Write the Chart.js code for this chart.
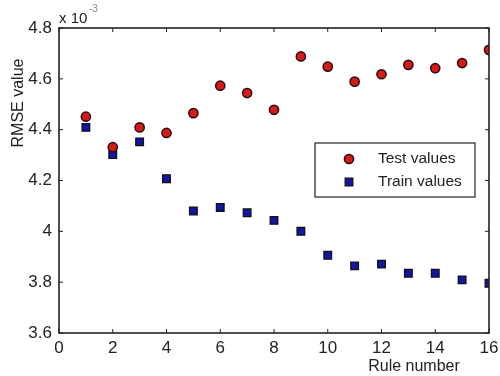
<!DOCTYPE html>
<html>
<head>
<meta charset="utf-8">
<script src="https://cdn.jsdelivr.net/npm/chart.js@4"></script>
<style>
  html, body { margin: 0; padding: 0; background: #fff; }
  #wrap { width: 500px; height: 376px; }
</style>
</head>
<body>
<div id="wrap"><canvas id="rmseChart" width="500" height="376"></canvas></div>
<script>
// RMSE values, in units of 10^-3
const ruleNumbers = [1, 2, 3, 4, 5, 6, 7, 8, 9, 10, 11, 12, 13, 14, 15, 16];
const testValues = [4.451, 4.331, 4.409, 4.387, 4.465, 4.573, 4.544, 4.478, 4.688, 4.648, 4.589, 4.618, 4.655, 4.642, 4.662, 4.714];
const trainValues = [4.409, 4.302, 4.352, 4.207, 4.080, 4.094, 4.073, 4.043, 4.000, 3.906, 3.864, 3.871, 3.835, 3.835, 3.809, 3.796];
const seriesNames = ['Test values', 'Train values'];

const FONT = "'Liberation Sans', Arial, sans-serif";
const INK = '#222';

// frame, inward ticks on all sides, axis labels, exponent and legend (MATLAB look)
const matlabFrame = {
  id: 'matlabFrame',
  afterDraw(chart) {
    const ctx = chart.ctx;
    const a = chart.chartArea;
    const xs = chart.scales.x, ys = chart.scales.y;
    ctx.save();
    ctx.strokeStyle = INK;
    ctx.lineWidth = 1.6;
    ctx.strokeRect(a.left, a.top, a.right - a.left, a.bottom - a.top);

    // inward ticks
    ctx.lineWidth = 1;
    ctx.beginPath();
    xs.ticks.forEach(t => {
      const px = xs.getPixelForValue(t.value);
      ctx.moveTo(px, a.bottom); ctx.lineTo(px, a.bottom - 4);
      ctx.moveTo(px, a.top); ctx.lineTo(px, a.top + 4);
    });
    ys.ticks.forEach(t => {
      const py = ys.getPixelForValue(t.value);
      ctx.moveTo(a.left, py); ctx.lineTo(a.left + 4, py);
      ctx.moveTo(a.right, py); ctx.lineTo(a.right - 4, py);
    });
    ctx.stroke();

    // exponent
    ctx.fillStyle = INK;
    ctx.textBaseline = 'alphabetic';
    ctx.textAlign = 'left';
    ctx.font = '15px ' + FONT;
    ctx.fillText('x 10', 59, 23);
    ctx.font = '10px ' + FONT;
    ctx.fillStyle = '#888';
    ctx.fillText('-3', 89, 12);

    // axis labels
    ctx.fillStyle = INK;
    ctx.font = '16px ' + FONT;
    ctx.textAlign = 'center';
    ctx.textBaseline = 'middle';
    ctx.fillText('Rule number', 414, 367);
    ctx.save();
    ctx.translate(19, 103);
    ctx.rotate(-Math.PI / 2);
    ctx.fillText('RMSE value', 0, 0);
    ctx.restore();

    // legend box
    const lx = 315, ly = 143, lw = 160, lh = 54;
    ctx.fillStyle = '#fff';
    ctx.fillRect(lx, ly, lw, lh);
    ctx.lineWidth = 1.2;
    ctx.strokeStyle = INK;
    ctx.strokeRect(lx, ly, lw, lh);
    chart.data.datasets.forEach((ds, i) => {
      const cy = ly + 16 + i * 23;
      ctx.fillStyle = ds.backgroundColor;
      ctx.strokeStyle = ds.borderColor;
      ctx.lineWidth = ds.borderWidth;
      ctx.beginPath();
      if (ds.pointStyle === 'rect') {
        const s = ds.pointRadius * Math.SQRT1_2;
        ctx.rect(349 - s, cy - s, 2 * s, 2 * s);
      } else {
        ctx.arc(349, cy, ds.pointRadius, 0, Math.PI * 2);
      }
      ctx.fill(); ctx.stroke();
      ctx.fillStyle = INK;
      ctx.textAlign = 'left';
      ctx.font = '15.5px ' + FONT;
      ctx.fillText(ds.label, 378, cy);
    });
    ctx.restore();
  }
};

function toPoints(ys) {
  return ruleNumbers.map((r, i) => ({ x: r, y: ys[i] }));
}

const ctx = document.getElementById('rmseChart').getContext('2d');
new Chart(ctx, {
  type: 'scatter',
  data: {
    datasets: [{
      label: seriesNames[0],
      data: toPoints(testValues),
      pointStyle: 'circle',
      pointRadius: 4.6,
      backgroundColor: '#d61a1a',
      borderColor: '#2a0a0a',
      borderWidth: 1.5
    }, {
      label: seriesNames[1],
      data: toPoints(trainValues),
      pointStyle: 'rect',
      pointRadius: 5.4,
      backgroundColor: '#1414a8',
      borderColor: '#111',
      borderWidth: 1.3
    }]
  },
  options: {
    responsive: false,
    animation: false,
    events: [],
    layout: { padding: { top: 28, right: 11, left: 0, bottom: 0 } },
    plugins: {
      legend: { display: false },
      tooltip: { enabled: false }
    },
    scales: {
      x: {
        type: 'linear',
        min: 0,
        max: 16,
        ticks: { stepSize: 2, color: INK, font: { family: FONT, size: 17 }, padding: 5, maxRotation: 0 },
        grid: { display: false, drawTicks: false },
        border: { display: false },
        afterFit(scale) {
          scale.height = 43;
          scale.paddingLeft = 0;
          scale.paddingRight = 0;
        }
      },
      y: {
        min: 3.6,
        max: 4.8,
        ticks: {
          stepSize: 0.2, color: INK, font: { family: FONT, size: 17 }, padding: 7,
          callback: v => String(Number(v.toFixed(1)))
        },
        grid: { display: false, drawTicks: false },
        border: { display: false },
        afterFit(scale) {
          scale.width = 59;
          scale.paddingTop = 0;
          scale.paddingBottom = 0;
        }
      }
    }
  },
  plugins: [matlabFrame]
});
</script>
</body>
</html>
